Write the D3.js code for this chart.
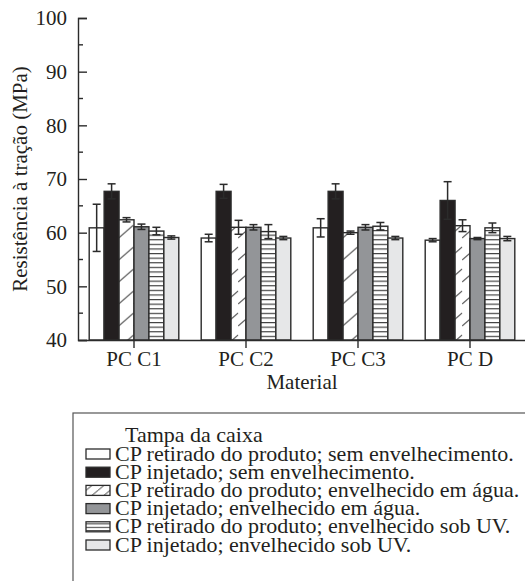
<!DOCTYPE html>
<html>
<head>
<meta charset="utf-8">
<script src="https://cdn.jsdelivr.net/npm/d3@7"></script>
<style>
  body { margin: 0; background: #fff; }
</style>
</head>
<body>
<div id="chart"></div>
<script>
const categories = ["PC C1", "PC C2", "PC C3", "PC D"];
const seriesNames = [
  "CP retirado do produto; sem envelhecimento.",
  "CP injetado; sem envelhecimento.",
  "CP retirado do produto; envelhecido em água.",
  "CP injetado; envelhecido em água.",
  "CP retirado do produto; envelhecido sob UV.",
  "CP injetado; envelhecido sob UV."
];
// mean values per series (one per category)
const retiradoSem = [60.9, 59.0, 60.9, 58.6];
const injetadoSem = [67.7, 67.7, 67.7, 66.0];
const retiradoAgua = [62.4, 61.0, 60.0, 61.3];
const injetadoAgua = [61.1, 61.0, 61.0, 58.9];
const retiradoUV = [60.3, 60.2, 61.2, 60.9];
const injetadoUV = [59.1, 59.0, 59.0, 58.9];
// standard deviations
const errRetiradoSem = [4.4, 0.7, 1.7, 0.3];
const errInjetadoSem = [1.4, 1.3, 1.4, 3.5];
const errRetiradoAgua = [0.4, 1.3, 0.3, 1.1];
const errInjetadoAgua = [0.5, 0.5, 0.5, 0.2];
const errRetiradoUV = [0.7, 1.3, 0.7, 0.9];
const errInjetadoUV = [0.3, 0.3, 0.3, 0.4];
const yTicks = [40, 50, 60, 70, 80, 90, 100];
const legendTitle = "Tampa da caixa";

const means = [retiradoSem, injetadoSem, retiradoAgua, injetadoAgua, retiradoUV, injetadoUV];
const errs = [errRetiradoSem, errInjetadoSem, errRetiradoAgua, errInjetadoAgua, errRetiradoUV, errInjetadoUV];

const width = 525, height = 581;
const ink = "#2b2b2b";
const txt = "#231f20";
const font = "Liberation Serif";
const fs = 21;
const legendFs = 22;
const fills = ["#ffffff", "#231f20", "url(#hatch)", "#939598", "url(#stripes)", "#e6e7e8"];

const svg = d3.select("#chart").append("svg")
  .attr("width", width)
  .attr("height", height);
const defs = svg.append("defs");

const x = d3.scaleBand()
  .domain(categories)
  .range([78, 526])
  .paddingInner(0.2)
  .paddingOuter(0.1);
const xs = d3.scaleBand()
  .domain(d3.range(seriesNames.length))
  .range([0, x.bandwidth()]);
const y = d3.scaleLinear()
  .domain([40, 100])
  .range([340, 18]);

// hatch patterns (one per group, aligned with the bar)
categories.forEach((c, i) => {
  const bx = x(c) + xs(2);
  const p = defs.append("pattern")
    .attr("id", "hatch" + i)
    .attr("patternUnits", "userSpaceOnUse")
    .attr("x", bx).attr("y", 0)
    .attr("width", xs.bandwidth()).attr("height", 22);
  p.append("rect").attr("width", xs.bandwidth()).attr("height", 22).attr("fill", "#fff");
  p.append("line")
    .attr("x1", 0).attr("y1", 18).attr("x2", xs.bandwidth()).attr("y2", 5)
    .attr("stroke", "#555").attr("stroke-width", 1);
});
const sp = defs.append("pattern")
  .attr("id", "stripes")
  .attr("patternUnits", "userSpaceOnUse")
  .attr("width", 10).attr("height", 4.6);
sp.append("rect").attr("width", 10).attr("height", 4.6).attr("fill", "#fff");
sp.append("line").attr("x1", 0).attr("x2", 10).attr("y1", 0.6).attr("y2", 0.6)
  .attr("stroke", "#333").attr("stroke-width", 1.1);

// bars
const groups = svg.append("g").selectAll("g")
  .data(categories)
  .join("g")
  .attr("transform", d => `translate(${x(d)},0)`);

groups.each(function(c, ci) {
  const g = d3.select(this);
  seriesNames.forEach((s, si) => {
    const v = means[si][ci];
    let fill = fills[si];
    if (si === 2) fill = `url(#hatch${ci})`;
    g.append("rect")
      .attr("x", xs(si))
      .attr("y", y(v))
      .attr("width", xs.bandwidth())
      .attr("height", y(40) - y(v))
      .attr("fill", fill)
      .attr("stroke", ink)
      .attr("stroke-width", 1.4);
  });
  seriesNames.forEach((s, si) => {
    const v = means[si][ci], e = errs[si][ci];
    const cx = xs(si) + xs.bandwidth() / 2;
    const eb = g.append("g").attr("stroke", ink).attr("stroke-width", 1.5);
    eb.append("line").attr("x1", cx).attr("x2", cx).attr("y1", y(v + e)).attr("y2", y(v - e));
    eb.append("line").attr("x1", cx - 4).attr("x2", cx + 4).attr("y1", y(v + e)).attr("y2", y(v + e));
    eb.append("line").attr("x1", cx - 4).attr("x2", cx + 4).attr("y1", y(v - e)).attr("y2", y(v - e));
  });
});

// y axis
const yAxis = svg.append("g")
  .attr("transform", "translate(78,0)")
  .call(d3.axisLeft(y).tickValues(yTicks).tickSize(-9).tickPadding(11).tickFormat(d3.format("d")));
yAxis.select(".domain").attr("stroke", ink).attr("stroke-width", 1.4);
yAxis.selectAll(".tick line").attr("stroke", ink).attr("stroke-width", 1.4);
yAxis.selectAll(".tick text").attr("fill", txt);
const minor = d3.range(45, 100, 10);
yAxis.selectAll(".minor")
  .data(minor)
  .join("line")
  .attr("class", "minor")
  .attr("x1", 0).attr("x2", 5)
  .attr("y1", d => y(d)).attr("y2", d => y(d))
  .attr("stroke", ink).attr("stroke-width", 1.4);

// x axis
const xAxis = svg.append("g")
  .attr("transform", "translate(0,340)")
  .call(d3.axisBottom(x).tickSize(8).tickPadding(3).tickSizeOuter(0));
xAxis.select(".domain").attr("stroke", ink).attr("stroke-width", 1.4);
xAxis.selectAll(".tick line").attr("stroke", ink).attr("stroke-width", 1.4);
xAxis.selectAll(".tick text").attr("fill", txt);

svg.append("text")
  .attr("x", (78 + 526) / 2)
  .attr("y", 389)
  .attr("text-anchor", "middle")
  .attr("fill", txt)
  .text("Material");

svg.append("text")
  .attr("transform", `translate(27,${(18 + 340) / 2}) rotate(-90)`)
  .attr("text-anchor", "middle")
  .attr("fill", txt)
  .text("Resistência à tração (MPa)");

// set the serif face on every axis text element directly
svg.selectAll("text")
  .attr("font-family", font)
  .attr("font-size", fs);

// legend
const legend = svg.append("g");
legend.append("rect")
  .attr("x", 73).attr("y", 413)
  .attr("width", 480).attr("height", 200)
  .attr("fill", "none")
  .attr("stroke", "#555")
  .attr("stroke-width", 1.2);
legend.append("text")
  .attr("x", 125).attr("y", 442)
  .attr("fill", txt)
  .text(legendTitle);

const lh = defs.append("pattern")
  .attr("id", "lhatch")
  .attr("patternUnits", "userSpaceOnUse")
  .attr("x", 86).attr("y", 0)
  .attr("width", 12).attr("height", 10);
lh.append("line").attr("x1", 0).attr("y1", 10).attr("x2", 12).attr("y2", 0)
  .attr("stroke", "#333").attr("stroke-width", 1);
const ls = defs.append("pattern")
  .attr("id", "lstripes")
  .attr("patternUnits", "userSpaceOnUse")
  .attr("width", 10).attr("height", 3.4);
ls.append("rect").attr("width", 10).attr("height", 3.4).attr("fill", "#fff");
ls.append("line").attr("x1", 0).attr("x2", 10).attr("y1", 0.5).attr("y2", 0.5)
  .attr("stroke", "#333").attr("stroke-width", 1);
const legendFills = ["#ffffff", "#231f20", "url(#lhatch)", "#939598", "url(#lstripes)", "#e6e7e8"];

const rows = legend.selectAll(".row")
  .data(seriesNames)
  .join("g")
  .attr("class", "row")
  .attr("transform", (d, i) => `translate(0,${454 + i * 18.2})`);
rows.append("rect")
  .attr("x", 86).attr("y", -5)
  .attr("width", 24).attr("height", 10)
  .attr("fill", (d, i) => legendFills[i])
  .attr("stroke", ink)
  .attr("stroke-width", 1.3);
rows.append("text")
  .attr("x", 115).attr("y", 6.5)
  .attr("fill", txt)
  .text(d => d);

legend.selectAll("text")
  .attr("font-family", font)
  .attr("font-size", legendFs);
</script>
</body>
</html>
